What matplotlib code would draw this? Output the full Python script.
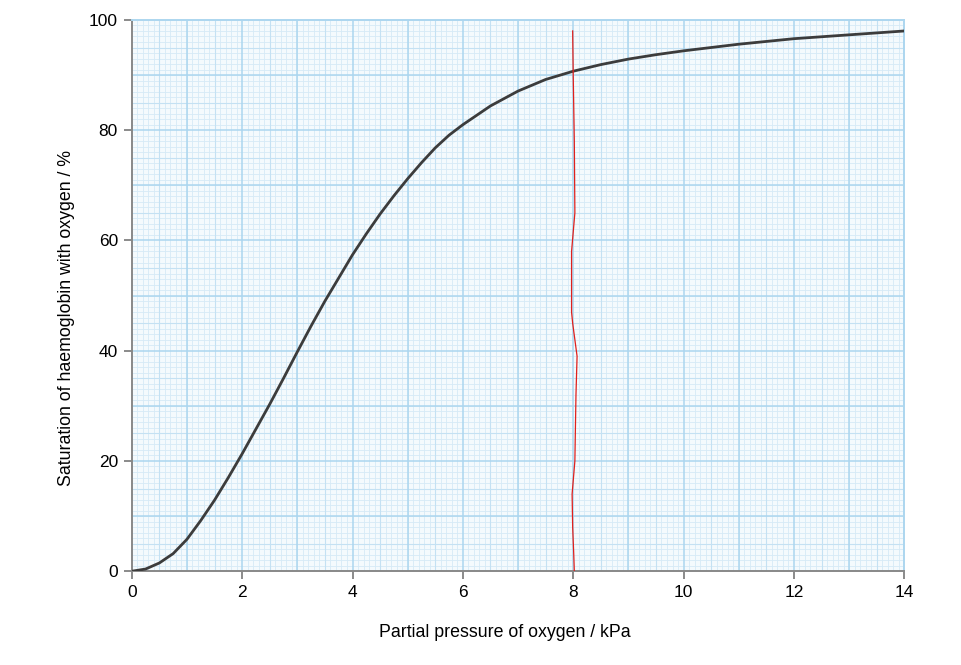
import numpy as np
import matplotlib.pyplot as plt
from matplotlib.ticker import MultipleLocator

plt.rcParams['font.family'] = ['Liberation Sans', 'DejaVu Sans']

# dissociation curve
po2 = [0, 0.25, 0.5, 0.75, 1.0, 1.25, 1.5, 1.75, 2.0, 2.25, 2.5, 2.75, 3.0,
       3.25, 3.5, 3.75, 4.0, 4.25, 4.5, 4.75, 5.0, 5.25, 5.5, 5.75, 6.0,
       6.5, 7.0, 7.5, 8.0, 8.5, 9.0, 9.5, 10.0, 11.0, 12.0, 13.0, 14.0]
sat = [0, 0.4, 1.5, 3.2, 5.8, 9.2, 12.9, 17.0, 21.3, 25.8, 30.3, 35.0, 39.8,
       44.5, 49.0, 53.2, 57.4, 61.2, 64.8, 68.1, 71.2, 74.1, 76.8, 79.1, 81.0,
       84.4, 87.1, 89.2, 90.7, 91.9, 92.9, 93.7, 94.4, 95.6, 96.6, 97.3, 98.0]

# hand drawn red line near 8 kPa
red_x = [7.99, 8.0, 8.02, 8.03, 7.97, 7.97, 7.99, 8.07, 8.05, 8.03, 7.98, 7.99, 8.01, 8.02]
red_y = [98, 90, 78, 65, 58, 47, 45, 39, 32, 20, 14, 8, 3, 0]

xticks = [0, 2, 4, 6, 8, 10, 12, 14]
yticks = [0, 20, 40, 60, 80, 100]

fig = plt.figure(figsize=(9.62, 6.65), dpi=100)
ax = fig.add_axes([0.137, 0.141, 0.803, 0.829])

# graph paper
ax.set_facecolor('#f4fafd')
ax.xaxis.set_minor_locator(MultipleLocator(0.1))
ax.yaxis.set_minor_locator(MultipleLocator(1))
ax.grid(which='minor', color='#d6eaf6', linewidth=0.6)
for v in np.arange(0.5, 14, 1.0):
    ax.axvline(v, color='#c4e1f3', linewidth=0.8, zorder=0.6)
for v in np.arange(5, 100, 10):
    ax.axhline(v, color='#c4e1f3', linewidth=0.8, zorder=0.6)
for v in np.arange(1, 14, 1):
    ax.axvline(v, color='#acd6ef', linewidth=1.1, zorder=0.7)
for v in np.arange(10, 100, 10):
    ax.axhline(v, color='#acd6ef', linewidth=1.1, zorder=0.7)
ax.set_axisbelow(True)

ax.plot(po2, sat, color='#3c3c3c', linewidth=2.0, solid_capstyle='round',
        solid_joinstyle='round', zorder=3)
ax.plot(red_x, red_y, color='#e0201c', linewidth=0.9, zorder=4)

ax.set_xlim(0, 14)
ax.set_ylim(0, 100)
ax.set_xticks(xticks)
ax.set_yticks(yticks)
ax.tick_params(which='minor', length=0)
ax.tick_params(which='major', length=6, width=1.2, color='#777777',
               labelsize=12.5, pad=4)

for s in ['left', 'bottom']:
    ax.spines[s].set_color('#888888')
    ax.spines[s].set_linewidth(1.4)
for s in ['top', 'right']:
    ax.spines[s].set_color('#acd6ef')
    ax.spines[s].set_linewidth(1.4)

ax.set_xlabel('Partial pressure of oxygen / kPa', fontsize=12.8, labelpad=17)
ax.set_ylabel('Saturation of haemoglobin with oxygen / %', fontsize=12.8, labelpad=10)
# labels sit a little off centre in the original
ax.xaxis.label.set_x(0.483)
ax.yaxis.label.set_y(0.459)

fig.savefig('out.png', dpi=100)
